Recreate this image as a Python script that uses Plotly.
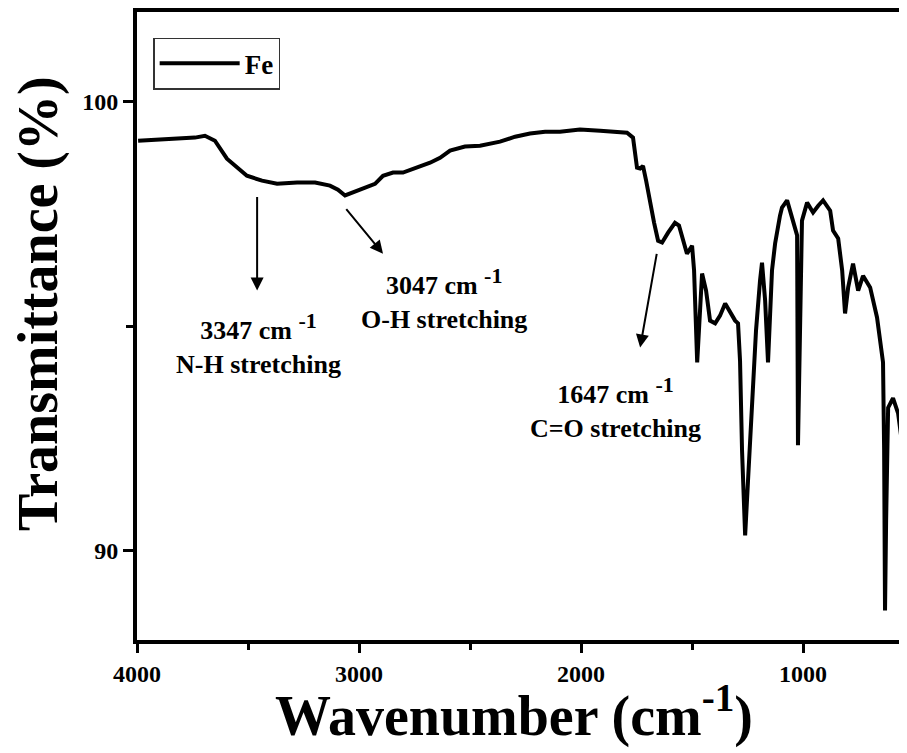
import plotly.graph_objects as go

# FTIR spectrum
wavenumber = [3995, 3896, 3806, 3739, 3694, 3649, 3595, 3550, 3505, 3437, 3369, 3279, 3198, 3131,
              3095, 3063, 3032, 2982, 2928, 2892, 2847, 2802, 2734, 2680, 2635, 2590, 2523, 2455,
              2365, 2297, 2230, 2162, 2095, 2005, 1914, 1847, 1793, 1766, 1752, 1748, 1734, 1721,
              1707, 1689, 1671, 1653, 1635, 1608, 1577, 1559, 1545, 1523, 1500, 1491, 1477, 1468,
              1455, 1437, 1419, 1396, 1374, 1351, 1329, 1306, 1293, 1284, 1275, 1261, 1248, 1230,
              1212, 1194, 1185, 1171, 1158, 1140, 1126, 1104, 1095, 1072, 1050, 1027, 1023, 1014,
              1005, 982, 955, 932, 910, 878, 865, 842, 824, 811, 797, 775, 752, 730, 698, 667,
              653, 640, 635, 631, 626, 617, 595, 572, 554, 532, 509]
transmittance = [99.13, 99.15, 99.18, 99.20, 99.24, 99.13, 98.73, 98.53, 98.35, 98.24, 98.17, 98.20, 98.20, 98.13,
                 98.04, 97.91, 97.97, 98.06, 98.17, 98.35, 98.42, 98.42, 98.53, 98.64, 98.75, 98.91, 99.00, 99.02,
                 99.11, 99.22, 99.29, 99.33, 99.33, 99.38, 99.35, 99.33, 99.31, 99.20, 98.69, 98.53, 98.51, 98.57,
                 98.24, 97.73, 97.30, 96.90, 96.86, 97.08, 97.30, 97.24, 97.02, 96.61, 96.79, 96.24, 94.19, 94.90,
                 96.17, 95.79, 95.12, 95.06, 95.23, 95.50, 95.30, 95.12, 95.06, 94.23, 92.23, 90.33, 91.56, 93.34,
                 94.90, 96.01, 96.41, 95.57, 94.19, 96.24, 96.84, 97.46, 97.64, 97.80, 97.39, 97.02, 92.34, 94.90,
                 97.35, 97.75, 97.53, 97.68, 97.80, 97.57, 97.13, 96.95, 96.24, 95.28, 95.86, 96.39, 95.79, 96.12, 95.86, 95.19,
                 94.68, 94.19, 92.23, 88.66, 90.67, 93.18, 93.39, 93.05, 92.38, 92.74, 92.56]

x_ticks = [4000, 3000, 2000, 1000]
x_minor = [3500, 2500, 1500]
y_ticks = [90, 100]
y_minor = [95]

# annotation arrows: (head wavenumber, head T, tail wavenumber, tail T)
arrows = [(3459, 95.79, 3459, 97.91),
          (2892, 96.61, 3063, 97.64),
          (1734, 94.52, 1658, 96.64)]
SUP = "<sup><span style='font-size:22px'>-1</span></sup>"
labels = [(3455, 94.61, "3347 cm " + SUP + "<br>N-H stretching"),
          (2617, 95.61, "3047 cm " + SUP + "<br>O-H stretching"),
          (1847, 93.18, "1647 cm " + SUP + "<br>C=O stretching")]

FONT = "Liberation Serif"

fig = go.Figure()
fig.add_trace(go.Scatter(x=wavenumber, y=transmittance, mode="lines", name="Fe",
                         line=dict(color="black", width=4)))

fig.update_layout(
    width=899, height=745,
    margin=dict(l=129, r=0, t=4, b=113),
    plot_bgcolor="white", paper_bgcolor="white",
    showlegend=True,
    font=dict(family=FONT, color="black", weight="bold"),
    legend=dict(x=0.021, y=0.959, xanchor="left", yanchor="top",
                bordercolor="#333", borderwidth=1.5, bgcolor="white",
                font=dict(family=FONT, size=27, weight="bold", color="black"),
                itemwidth=80),
)

fig.update_xaxes(
    range=[4000, 532], tickmode="array", tickvals=x_ticks,
    ticks="outside", ticklen=9, tickwidth=3, tickcolor="black",
    minor=dict(tickmode="array", tickvals=x_minor, ticks="outside", ticklen=6, tickwidth=3, tickcolor="black"),
    showline=True, linewidth=4, linecolor="black", mirror=True,
    showgrid=False, zeroline=False, automargin=False,
    tickfont=dict(family=FONT, size=24, weight="bold", color="black"),
)
fig.update_yaxes(
    range=[88, 102], tickmode="array", tickvals=y_ticks,
    ticks="outside", ticklen=10, tickwidth=3, tickcolor="black",
    minor=dict(tickmode="array", tickvals=y_minor, ticks="outside", ticklen=7, tickwidth=3, tickcolor="black"),
    showline=True, linewidth=4, linecolor="black", mirror=False,
    showgrid=False, zeroline=False, automargin=False,
    tickfont=dict(family=FONT, size=24, weight="bold", color="black"),
)

# axis titles
fig.add_annotation(x=0.49, y=-0.114, xref="paper", yref="paper", showarrow=False,
                   text="Wavenumber (cm<sup>-1</sup>)", xanchor="center", yanchor="middle",
                   font=dict(family=FONT, size=56, weight="bold", color="black"))
fig.add_annotation(x=-0.1286, y=0.5366, xref="paper", yref="paper", showarrow=False,
                   text="Transmittance (%)", textangle=-90, xanchor="center", yanchor="middle",
                   font=dict(family=FONT, size=56, weight="bold", color="black"))

for hx, hy, tx, ty in arrows:
    fig.add_annotation(x=hx, y=hy, ax=tx, ay=ty, xref="x", yref="y", axref="x", ayref="y",
                       text="", showarrow=True, arrowhead=2, arrowsize=1.3, arrowwidth=2,
                       arrowcolor="black")
for lx, ly, txt in labels:
    fig.add_annotation(x=lx, y=ly, xref="x", yref="y", text=txt, showarrow=False,
                       font=dict(family=FONT, size=26, weight="bold", color="black"),
                       align="center")

fig.write_html("out.html")
